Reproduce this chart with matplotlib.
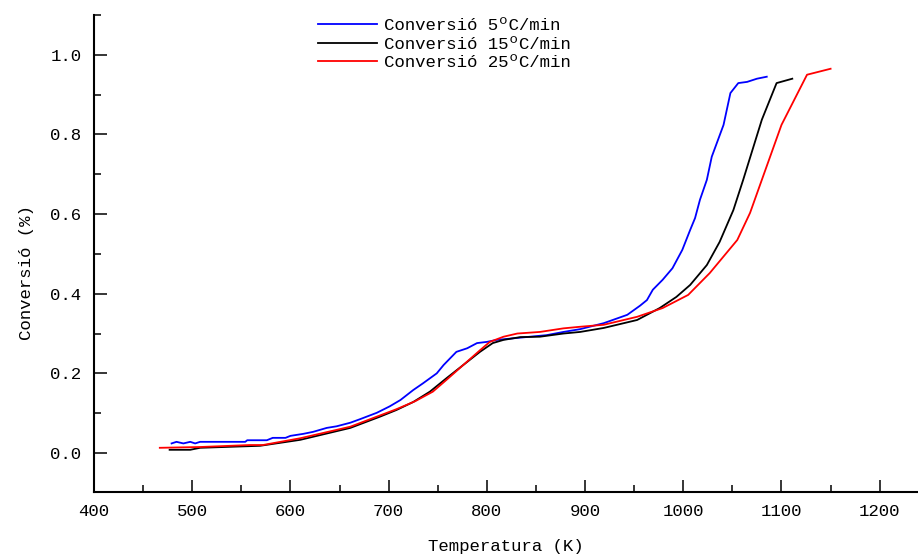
import matplotlib.pyplot as plt
from matplotlib.ticker import MultipleLocator

# conversio vs temperatura, tres velocitats d'escalfament
T_5 = [479, 484, 491, 498, 503, 508, 554, 556, 576, 582, 595, 600, 613, 623,
       637, 647, 661, 671, 688, 701, 712, 725, 735, 749, 756, 769, 780, 790,
       800, 810, 827, 844, 861, 878, 895, 919, 943, 956, 963, 969, 979, 989,
       999, 1007, 1012, 1017, 1024, 1029, 1041, 1048, 1056, 1065, 1075, 1085]
X_5 = [0.024, 0.028, 0.024, 0.028, 0.024, 0.028, 0.028, 0.032, 0.032, 0.038,
       0.038, 0.043, 0.048, 0.053, 0.063, 0.067, 0.076, 0.085, 0.101, 0.117,
       0.133, 0.158, 0.175, 0.200, 0.221, 0.254, 0.263, 0.276, 0.279, 0.284,
       0.288, 0.292, 0.296, 0.304, 0.311, 0.326, 0.347, 0.370, 0.384, 0.410,
       0.435, 0.464, 0.510, 0.560, 0.590, 0.636, 0.686, 0.744, 0.824, 0.904,
       0.929, 0.932, 0.940, 0.945]

T_15 = [477, 498, 508, 569, 610, 661, 691, 708, 725, 742, 759, 776, 793, 806,
        817, 834, 854, 878, 895, 919, 953, 976, 993, 1007, 1024, 1037, 1051,
        1061, 1080, 1095, 1111]
X_15 = [0.008, 0.008, 0.013, 0.018, 0.033, 0.063, 0.091, 0.108, 0.128, 0.154,
        0.188, 0.221, 0.254, 0.276, 0.284, 0.291, 0.292, 0.300, 0.304, 0.314,
        0.334, 0.364, 0.392, 0.422, 0.472, 0.530, 0.610, 0.686, 0.837, 0.929,
        0.940]

T_25 = [467, 508, 559, 572, 610, 661, 708, 727, 745, 760, 776, 793, 803, 817,
        831, 854, 878, 895, 919, 953, 979, 1005, 1027, 1055, 1068, 1080, 1100,
        1126, 1150]
X_25 = [0.013, 0.015, 0.020, 0.020, 0.037, 0.066, 0.110, 0.130, 0.154, 0.186,
        0.221, 0.258, 0.279, 0.292, 0.300, 0.304, 0.313, 0.317, 0.322, 0.342,
        0.364, 0.397, 0.452, 0.535, 0.603, 0.686, 0.824, 0.950, 0.965]

labels = ["Conversió 5ºC/min", "Conversió 15ºC/min", "Conversió 25ºC/min"]

plt.rcParams["font.family"] = ["Liberation Mono", "DejaVu Sans Mono"]
plt.rcParams["font.size"] = 12.5

fig = plt.figure(figsize=(9.18, 5.56), dpi=100)
ax = fig.add_axes([94 / 918, 1 - 492 / 556, 1 - 94 / 918, (492 - 15) / 556])

ax.plot(T_5, X_5, color="#0000ff", lw=1.3, label=labels[0])
ax.plot(T_15, X_15, color="black", lw=1.3, label=labels[1])
ax.plot(T_25, X_25, color="#ff0000", lw=1.3, label=labels[2])

ax.set_xlim(400, 1239)
ax.set_ylim(-0.098, 1.1)
ax.xaxis.set_major_locator(MultipleLocator(100))
ax.xaxis.set_minor_locator(MultipleLocator(50))
ax.yaxis.set_major_locator(MultipleLocator(0.2))
ax.yaxis.set_minor_locator(MultipleLocator(0.1))
ax.yaxis.set_major_formatter(lambda v, p: f"{v:.1f}")

for s in ("top", "right"):
    ax.spines[s].set_visible(False)
for s in ("left", "bottom"):
    ax.spines[s].set_linewidth(1.5)
ax.tick_params(which="major", direction="in", length=9, width=1.1, pad=9)
ax.tick_params(which="minor", direction="in", length=5, width=1.1)

ax.set_xlabel("Temperatura (K)", va="center")
ax.set_ylabel("Conversió (%)", va="center")
ax.xaxis.set_label_coords(0.5, -(546 - 492) / 477)
ax.yaxis.set_label_coords(-67 / 824, 0.46)

fig.legend(loc="upper left", bbox_to_anchor=(318 / 918, 1 - 18 / 556),
           frameon=False, borderpad=0, borderaxespad=0, handlelength=3.4,
           handletextpad=0.4, labelspacing=0.2)

fig.savefig("out.png", dpi=100)
